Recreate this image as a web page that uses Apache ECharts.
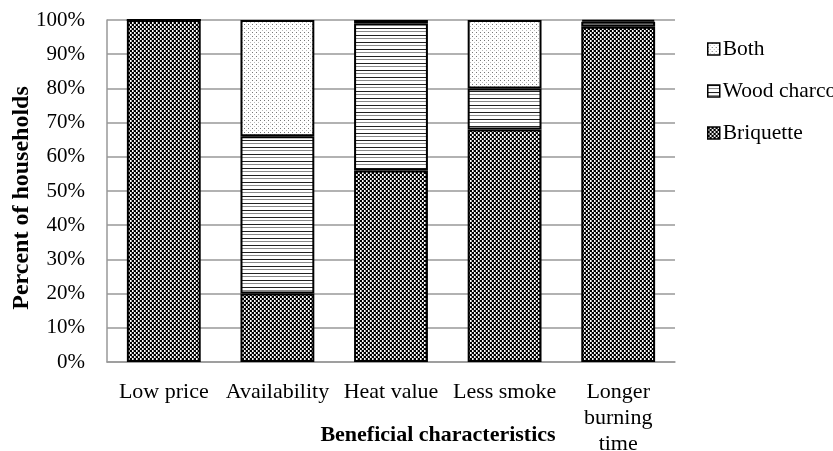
<!DOCTYPE html>
<html><head><meta charset="utf-8">
<script src="https://cdn.jsdelivr.net/npm/echarts@6/dist/echarts.min.js"></script>
<style>html,body{margin:0;padding:0;background:#fff}#c{width:833px;height:451px}</style>
</head><body><div id="c"></div>
<script>
var categories = ['Low price', 'Availability', 'Heat value', 'Less smoke', 'Longer\nburning\ntime'];
var briquette = [100, 20, 56, 68, 98];
var woodCharcoal = [0, 46, 43, 12, 1.5];
var both = [0, 34, 1, 20, 0.5];
var yTicks = [0, 10, 20, 30, 40, 50, 60, 70, 80, 90, 100];

function makeTile(w, h, fn) {
  var c = document.createElement('canvas');
  c.width = w; c.height = h;
  var ctx = c.getContext('2d');
  ctx.fillStyle = '#fff'; ctx.fillRect(0, 0, w, h);
  for (var y = 0; y < h; y++) for (var x = 0; x < w; x++) {
    var col = fn(x, y);
    if (col) { ctx.fillStyle = col; ctx.fillRect(x, y, 1, 1); }
  }
  return c;
}
var checker = makeTile(4, 4, function (x, y) {
  return (((x >> 1) + (y >> 1)) % 2 === 0) ? '#000' : (x % 2 === 1 ? '#9a9a9a' : null);
});
var hlines = makeTile(4, 7, function (x, y) {
  return y === 0 ? '#222' : (y === 3 ? '#8a8a8a' : null);
});
var dots = makeTile(4, 4, function (x, y) {
  if (x === 0 && y === 0) return '#777';
  if (x === 2 && y === 2) return '#bbb';
  return null;
});

var font = '"Liberation Serif", "Times New Roman", serif';
var chart = echarts.init(document.getElementById('c'), null, { renderer: 'canvas' });
function ser(name, data, tile) {
  return {
    name: name, type: 'bar', stack: 'total', data: data, barWidth: '65%',
    itemStyle: { color: { image: tile, repeat: 'repeat' }, borderColor: '#000', borderWidth: 2 }
  };
}
chart.setOption({
  animation: false,
  textStyle: { fontFamily: font },
  grid: { left: 107, right: 158, top: 20, bottom: 89, containLabel: false, outerBoundsMode: 'none' },
  legend: {
    orient: 'vertical', left: 702, top: 33, itemWidth: 12, itemHeight: 12, itemGap: 20, icon: 'rect',
    data: ['Both', 'Wood charcoal', 'Briquette'],
    textStyle: { fontFamily: font, fontSize: 21.5, color: '#000', padding: [0, 0, 0, -2] },
    itemStyle: { borderColor: '#000', borderWidth: 1.5 }
  },
  xAxis: {
    type: 'category', data: categories,
    axisLine: { lineStyle: { color: '#999', width: 1.5 } },
    axisTick: { show: false },
    axisLabel: { interval: 0, margin: 17, fontFamily: font, fontSize: 22, color: '#000', lineHeight: 26 },
    name: 'Beneficial characteristics', nameLocation: 'middle', nameGap: 62, nameMoveOverlap: false,
    nameTextStyle: { fontFamily: font, fontSize: 22, fontWeight: 'bold', color: '#000', padding: [0, 0, 0, 94] }
  },
  yAxis: {
    type: 'value', min: 0, max: 100, interval: 10,
    axisLine: { show: true, lineStyle: { color: '#999', width: 1.5 } },
    axisTick: { show: false },
    splitLine: { lineStyle: { color: '#999', width: 1.5 } },
    axisLabel: { margin: 22, fontFamily: font, fontSize: 21, color: '#000',
      formatter: function (v) { return yTicks.indexOf(v) >= 0 ? v + '%' : ''; } },
    name: 'Percent of households', nameLocation: 'middle', nameGap: 73, nameMoveOverlap: false,
    nameTextStyle: { fontFamily: font, fontSize: 24, fontWeight: 'bold', color: '#000', padding: [0, 14, 0, 0] }
  },
  series: [
    ser('Briquette', briquette, checker),
    ser('Wood charcoal', woodCharcoal, hlines),
    ser('Both', both, dots)
  ]
});
</script></body></html>
